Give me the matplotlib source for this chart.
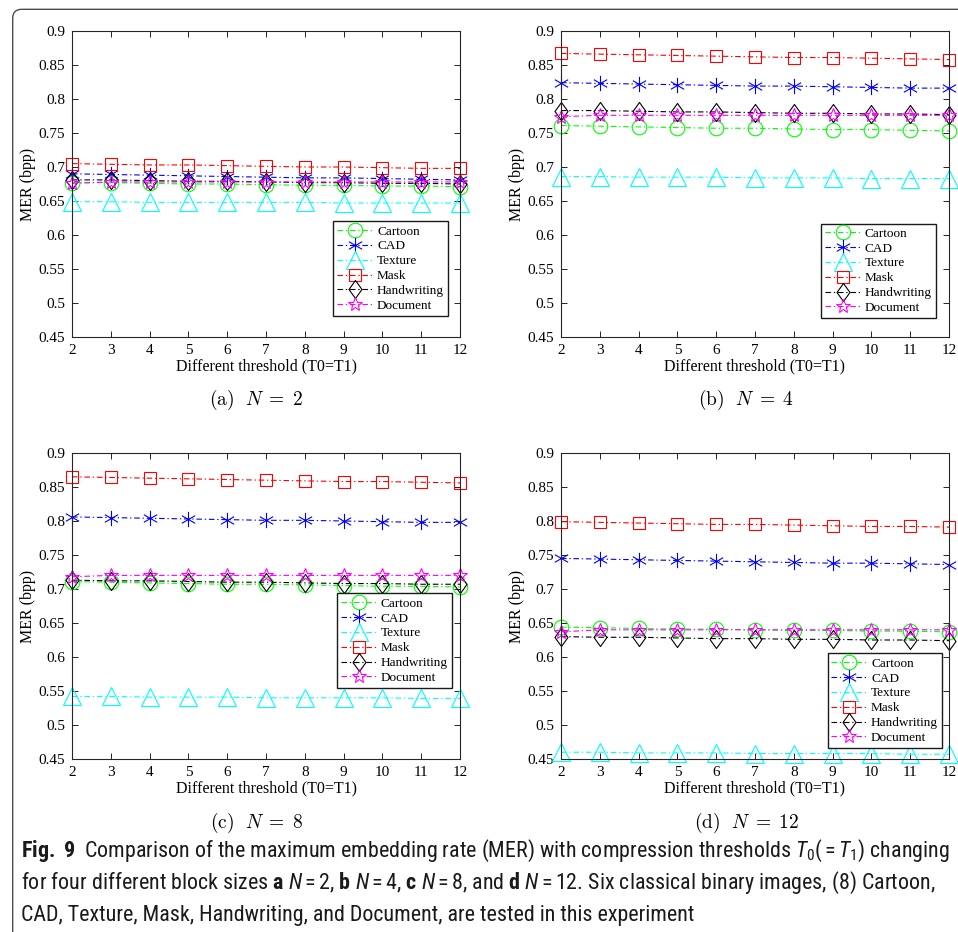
import matplotlib
matplotlib.use('Agg')
import matplotlib.pyplot as plt
from matplotlib import font_manager
from matplotlib.path import Path
from matplotlib.patches import FancyBboxPatch

thresholds = [2, 3, 4, 5, 6, 7, 8, 9, 10, 11, 12]
names = ['Cartoon', 'CAD', 'Texture', 'Mask', 'Handwriting', 'Document']
block_sizes = [2, 4, 8, 12]
panel_letters = ['a', 'b', 'c', 'd']

# MER values (bpp), one list per image
n2_cartoon = [0.677, 0.677, 0.676, 0.675, 0.675, 0.674, 0.673, 0.673, 0.672, 0.672, 0.671]
n2_cad = [0.690, 0.689, 0.688, 0.687, 0.686, 0.685, 0.684, 0.684, 0.683, 0.682, 0.681]
n2_texture = [0.649, 0.649, 0.648, 0.648, 0.648, 0.648, 0.648, 0.647, 0.647, 0.647, 0.647]
n2_mask = [0.705, 0.704, 0.703, 0.703, 0.702, 0.701, 0.700, 0.700, 0.699, 0.698, 0.698]
n2_hand = [0.681, 0.681, 0.680, 0.679, 0.679, 0.678, 0.677, 0.677, 0.676, 0.676, 0.675]
n2_doc = [0.676, 0.678, 0.678, 0.678, 0.678, 0.678, 0.678, 0.678, 0.678, 0.678, 0.678]

n4_cartoon = [0.761, 0.760, 0.759, 0.758, 0.757, 0.757, 0.756, 0.755, 0.755, 0.754, 0.753]
n4_cad = [0.824, 0.823, 0.822, 0.821, 0.820, 0.819, 0.819, 0.818, 0.817, 0.816, 0.816]
n4_texture = [0.686, 0.686, 0.685, 0.685, 0.685, 0.684, 0.684, 0.684, 0.683, 0.683, 0.683]
n4_mask = [0.867, 0.866, 0.865, 0.864, 0.863, 0.862, 0.861, 0.861, 0.860, 0.859, 0.858]
n4_hand = [0.783, 0.783, 0.782, 0.781, 0.781, 0.780, 0.779, 0.779, 0.778, 0.778, 0.777]
n4_doc = [0.774, 0.776, 0.776, 0.776, 0.776, 0.776, 0.776, 0.776, 0.776, 0.776, 0.776]

n8_cartoon = [0.711, 0.710, 0.709, 0.708, 0.707, 0.707, 0.706, 0.705, 0.704, 0.704, 0.703]
n8_cad = [0.806, 0.805, 0.804, 0.803, 0.802, 0.801, 0.801, 0.800, 0.799, 0.798, 0.798]
n8_texture = [0.542, 0.542, 0.541, 0.541, 0.541, 0.540, 0.540, 0.540, 0.540, 0.539, 0.539]
n8_mask = [0.865, 0.864, 0.863, 0.862, 0.861, 0.860, 0.859, 0.858, 0.858, 0.857, 0.856]
n8_hand = [0.713, 0.712, 0.712, 0.711, 0.710, 0.710, 0.709, 0.708, 0.708, 0.707, 0.707]
n8_doc = [0.718, 0.720, 0.720, 0.720, 0.720, 0.720, 0.720, 0.720, 0.720, 0.720, 0.720]

n12_cartoon = [0.644, 0.643, 0.642, 0.641, 0.641, 0.640, 0.639, 0.639, 0.638, 0.638, 0.637]
n12_cad = [0.745, 0.744, 0.743, 0.742, 0.741, 0.740, 0.739, 0.738, 0.738, 0.737, 0.736]
n12_texture = [0.460, 0.460, 0.459, 0.459, 0.459, 0.458, 0.458, 0.458, 0.458, 0.457, 0.457]
n12_mask = [0.799, 0.798, 0.797, 0.796, 0.795, 0.795, 0.794, 0.793, 0.792, 0.792, 0.791]
n12_hand = [0.630, 0.629, 0.629, 0.628, 0.627, 0.627, 0.626, 0.626, 0.625, 0.625, 0.624]
n12_doc = [0.637, 0.640, 0.640, 0.640, 0.640, 0.640, 0.640, 0.640, 0.640, 0.640, 0.640]

panels = [
    [n2_cartoon, n2_cad, n2_texture, n2_mask, n2_hand, n2_doc],
    [n4_cartoon, n4_cad, n4_texture, n4_mask, n4_hand, n4_doc],
    [n8_cartoon, n8_cad, n8_texture, n8_mask, n8_hand, n8_doc],
    [n12_cartoon, n12_cad, n12_texture, n12_mask, n12_hand, n12_doc],
]

# MATLAB-like open markers
asterisk = Path([(0, -1), (0, 1), (-0.87, -0.5), (0.87, 0.5), (-0.87, 0.5), (0.87, -0.5)],
                [Path.MOVETO, Path.LINETO] * 3)
diamond = Path([(0, 1), (0.72, 0), (0, -1), (-0.72, 0), (0, 1)],
               [Path.MOVETO, Path.LINETO, Path.LINETO, Path.LINETO, Path.CLOSEPOLY])
colors = ['#00ff00', '#0000ff', '#00ffff', '#ff0000', '#000000', '#ff00ff']
markers = ['o', asterisk, '^', 's', diamond, '*']
msizes = [10.5, 11, 13, 8.8, 13, 10.5]

plt.rcParams['font.family'] = ['Liberation Serif', 'DejaVu Serif']

# a condensed sans for the caption if one is installed
avail = {f.name for f in font_manager.fontManager.ttflist}
cap_font = 'Liberation Sans'
for cand in ['Liberation Sans Narrow', 'DejaVu Sans Condensed', 'Roboto Condensed',
             'Open Sans Condensed', 'Noto Sans Condensed']:
    if cand in avail:
        cap_font = cand
        break
plt.rcParams['mathtext.fontset'] = 'custom'
plt.rcParams['mathtext.rm'] = cap_font
plt.rcParams['mathtext.it'] = cap_font + ':italic'
plt.rcParams['mathtext.bf'] = cap_font + ':bold'

fig = plt.figure(figsize=(9.58, 9.32), dpi=100)

# rounded page frame (top-left corner)
frame = FancyBboxPatch((0.127, -1.0), 12.0, 10.227, boxstyle='round,pad=0,rounding_size=0.09',
                       transform=fig.dpi_scale_trans, fc='none', ec='0.3', lw=1.0, clip_on=False)
fig.add_artist(frame)

W, H = 958.0, 932.0
ax_pos = [(72, 337), (561, 337), (72, 759), (561, 759)]
leg_anchor = [(0.969, 0.069), (0.966, 0.062), (0.979, 0.232), (0.982, 0.036)]
cap_pos = [(256, 400), (746, 400), (257, 823), (746, 823)]

for i, series in enumerate(panels):
    x0, y0 = ax_pos[i]
    ax = fig.add_axes([x0 / W, 1 - y0 / H, 388 / W, 306 / H])
    for j, vals in enumerate(series):
        ax.plot(thresholds, vals, linestyle=(0, (5, 2.5, 1.2, 2.5)), lw=0.8, color=colors[j],
                marker=markers[j], ms=msizes[j], mfc='none', mec=colors[j], mew=0.8,
                label=names[j], clip_on=False)
    ax.set_xlim(2, 12)
    ax.set_ylim(0.45, 0.9)
    ax.set_xticks(thresholds)
    yt = [0.45, 0.5, 0.55, 0.6, 0.65, 0.7, 0.75, 0.8, 0.85, 0.9]
    ax.set_yticks(yt)
    ax.set_yticklabels([('%.2f' % v).rstrip('0') for v in yt])
    ax.tick_params(direction='in', length=4, width=0.6, top=True, right=True, labelsize=11)
    ax.tick_params(axis='x', pad=5)
    ax.tick_params(axis='y', pad=5)
    for s in ax.spines.values():
        s.set_color('0.15')
        s.set_linewidth(0.8)
    ax.set_xlabel('Different threshold (T0=T1)', fontsize=11.5, labelpad=1)
    ax.set_ylabel('MER (bpp)', fontsize=11.5, labelpad=2)
    ax.legend(loc='lower right', bbox_to_anchor=leg_anchor[i], fontsize=9.5, fancybox=False,
              edgecolor='0.1', framealpha=1, borderpad=0.3, labelspacing=0.2,
              handlelength=2.7, handletextpad=0.3, borderaxespad=0)
    cx, cy = cap_pos[i]
    fig.text(cx / W, 1 - cy / H, r'$\mathrm{(%s)}\ \ N\;=\;%d$' % (panel_letters[i], block_sizes[i]),
             math_fontfamily='cm', fontsize=14, ha='center', va='center')

# figure caption
lines = [
    r'$\mathbf{Fig.\ 9}$  Comparison of the maximum embedding rate (MER) with compression thresholds $T_0(=T_1)$ changing',
    r'for four different block sizes $\mathbf{a}\ N = 2$, $\mathbf{b}\ N = 4$, $\mathbf{c}\ N = 8$, and $\mathbf{d}\ N = 12$. Six classical binary images, (8) Cartoon,',
    'CAD, Texture, Mask, Handwriting, and Document, are tested in this experiment',
]
baselines = [857, 889, 921]
caps = []
for ln, b in zip(lines, baselines):
    caps.append(fig.text(21 / W, 1 - b / H, ln, fontfamily=cap_font, fontsize=12.5,
                         ha='left', va='baseline', color='#1a1a1a'))

fig.canvas.draw()
w = caps[0].get_window_extent().width
scale = 932.0 / w
for t in caps:
    t.set_fontsize(12.5 * scale)

fig.savefig('out.png', dpi=100)
